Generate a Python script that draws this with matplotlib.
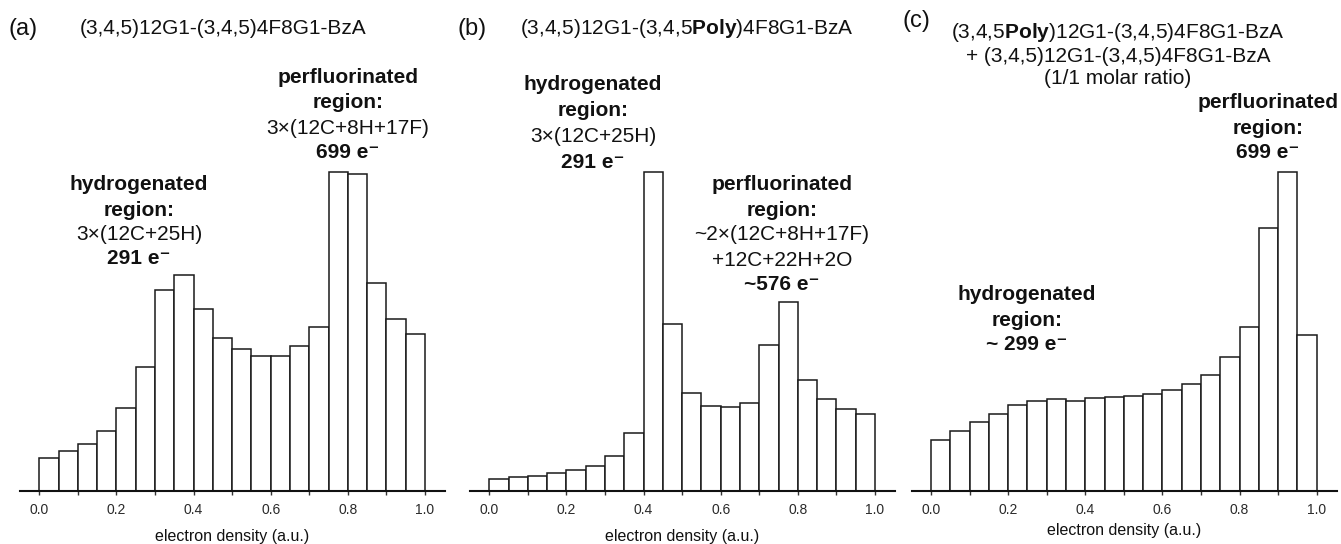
import numpy as np
import matplotlib
matplotlib.use("Agg")
from matplotlib import pyplot as plt

plt.rcParams['font.family'] = ['Liberation Sans', 'DejaVu Sans']
plt.rcParams['mathtext.fontset'] = 'custom'
plt.rcParams['mathtext.rm'] = 'Liberation Sans'
plt.rcParams['mathtext.bf'] = 'Liberation Sans:bold'

# bin left edges (electron density, a.u.)
bins = np.arange(0, 1.0, 0.05)

# histogram heights (arbitrary units)
dens_a = [33, 40, 47, 60, 83, 124, 201, 216, 182, 153, 142, 135, 135, 145, 164, 319, 317, 208, 172, 157]
dens_b = [12, 14, 15, 18, 21, 25, 35, 58, 319, 167, 98, 85, 84, 88, 146, 189, 111, 92, 82, 77]
dens_c = [51, 60, 69, 77, 86, 90, 92, 90, 93, 94, 95, 97, 101, 107, 116, 134, 164, 263, 319, 156]

xticks = [0.0, 0.2, 0.4, 0.6, 0.8, 1.0]
xticklabels = ['0.0', '0.2', '0.4', '0.6', '0.8', '1.0']

W, H = 1341, 544
fig = plt.figure(figsize=(W / 100, H / 100), dpi=100)

def px(x, y):
    return x / W, 1 - y / H

base = 490.7
lefts = [20, 470, 911.7]
for left, dens in zip(lefts, [dens_a, dens_b, dens_c]):
    ax = fig.add_axes([left / W, (H - base) / H, 425 / W, base / H])
    ax.bar(bins, dens, width=0.05, align='edge', facecolor='white',
           edgecolor='#1a1a1a', linewidth=1.1)
    ax.set_xlim(-0.05, 1.052)
    ax.set_ylim(0, base)
    for s in ['left', 'top', 'right']:
        ax.spines[s].set_visible(False)
    ax.spines['bottom'].set_linewidth(1.5)
    ax.spines['bottom'].set_color('#111111')
    ax.set_yticks([])
    ax.set_xticks(xticks)
    ax.set_xticklabels(xticklabels)
    ax.set_xticks(np.arange(0.1, 1.0, 0.2), minor=True)
    ax.tick_params(axis='x', which='major', length=3, width=1, pad=6,
                   labelsize=10, labelcolor='#2a2a2a', color='#333333')
    ax.tick_params(axis='x', which='minor', length=3, width=1, color='#333333')
    ax.patch.set_alpha(0)

fs = 15
def t(x, y, s, bold=False, ha='center', size=fs):
    fig.text(*px(x, y), s, ha=ha, va='center', fontsize=size,
             fontweight='bold' if bold else 'normal', color='#111111')

# x labels
t(232, 537, 'electron density (a.u.)', size=11.5)
t(682, 537, 'electron density (a.u.)', size=11.5)
t(1124, 530, 'electron density (a.u.)', size=11.5)

# panel (a)
t(8, 29, '(a)', ha='left', size=17)
t(80, 28, '(3,4,5)12G1-(3,4,5)4F8G1-BzA', ha='left')
t(348, 78, 'perfluorinated', bold=True)
t(348, 102, 'region:', bold=True)
t(348, 128, '3\u00d7(12C+8H+17F)')
t(348, 153, '699 e\u207b', bold=True)
t(139, 185, 'hydrogenated', bold=True)
t(139, 210, 'region:', bold=True)
t(139, 234, '3\u00d7(12C+25H)')
t(139, 259, '291 e\u207b', bold=True)

# panel (b)
t(458, 29, '(b)', ha='left', size=17)
t(520, 28, r'(3,4,5)12G1-(3,4,5$\mathbf{Poly}$)4F8G1-BzA', ha='left')
t(593, 85, 'hydrogenated', bold=True)
t(593, 111, 'region:', bold=True)
t(593, 137, '3\u00d7(12C+25H)')
t(593, 162, '291 e\u207b', bold=True)
t(782, 185, 'perfluorinated', bold=True)
t(782, 210, 'region:', bold=True)
t(782, 235, '~2\u00d7(12C+8H+17F)')
t(782, 260, '+12C+22H+2O')
t(782, 285, '~576 e\u207b', bold=True)

# panel (c)
t(902, 21, '(c)', ha='left', size=17)
t(1118, 33, r'(3,4,5$\mathbf{Poly}$)12G1-(3,4,5)4F8G1-BzA')
t(1118, 57, '+ (3,4,5)12G1-(3,4,5)4F8G1-BzA')
t(1118, 79, '(1/1 molar ratio)')
t(1268, 103, 'perfluorinated', bold=True)
t(1268, 128, 'region:', bold=True)
t(1268, 153, '699 e\u207b', bold=True)
t(1027, 295, 'hydrogenated', bold=True)
t(1027, 320, 'region:', bold=True)
t(1027, 345, '~ 299 e\u207b', bold=True)

plt.savefig('out.png', dpi=100)
